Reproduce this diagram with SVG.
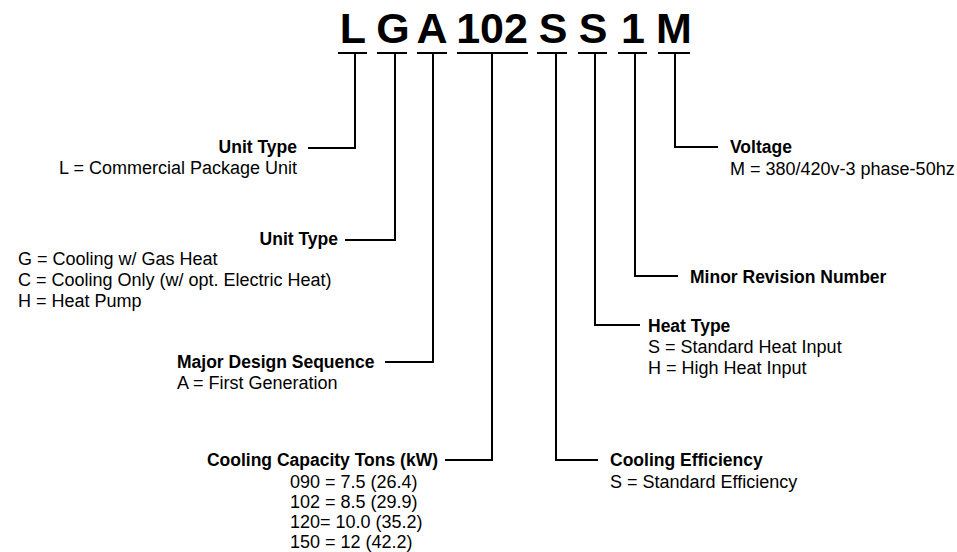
<svg xmlns="http://www.w3.org/2000/svg" width="957" height="552" viewBox="0 0 957 552">
<style>
.t{font-family:"Liberation Sans",Arial,sans-serif;font-size:18px;fill:#000}
.b{font-weight:bold;font-size:17.5px}
.title{font-family:"Liberation Sans",Arial,sans-serif;font-size:43px;font-weight:bold;fill:#000}
.c{fill:none;stroke:#000;stroke-width:2}
</style>
<rect width="957" height="552" fill="#fff"/>
<g id="title">
<text class="title" x="353" y="43" text-anchor="middle">L</text>
<text class="title" x="393" y="43" text-anchor="middle">G</text>
<text class="title" x="432" y="43" text-anchor="middle">A</text>
<text class="title" x="492" y="43" text-anchor="middle">102</text>
<text class="title" x="553" y="43" text-anchor="middle">S</text>
<text class="title" x="593" y="43" text-anchor="middle">S</text>
<text class="title" x="633" y="43" text-anchor="middle">1</text>
<text class="title" x="674" y="43" text-anchor="middle">M</text>
</g>
<g id="connectors" class="c">
<path d="M338 53H367M355 53V148H308"/>
<path d="M377 53H407M395 53V240H345"/>
<path d="M417 53H447M433 53V362H385"/>
<path d="M457 53H528M492 53V460H445"/>
<path d="M537 53H567M556 53V460H598"/>
<path d="M578 53H607M595 53V325H640"/>
<path d="M618 53H647M635 53V276H678"/>
<path d="M658 53H690M675 53V147H718"/>
</g>
<g id="unit-type-1">
<text class="t b" x="297" y="153" text-anchor="end">Unit Type</text>
<text class="t" x="297" y="174" text-anchor="end">L = Commercial Package Unit</text>
</g>
<g id="unit-type-2">
<text class="t b" x="338" y="245" text-anchor="end">Unit Type</text>
<text class="t" x="18" y="265">G = Cooling w/ Gas Heat</text>
<text class="t" x="18" y="286">C = Cooling Only (w/ opt. Electric Heat)</text>
<text class="t" x="18" y="307">H = Heat Pump</text>
</g>
<g id="major-design">
<text class="t b" x="177" y="368">Major Design Sequence</text>
<text class="t" x="177" y="389">A = First Generation</text>
</g>
<g id="cooling-capacity">
<text class="t b" x="438" y="466" text-anchor="end">Cooling Capacity Tons (kW)</text>
<text class="t" x="290" y="488">090 = 7.5 (26.4)</text>
<text class="t" x="290" y="508">102 = 8.5 (29.9)</text>
<text class="t" x="290" y="528">120= 10.0 (35.2)</text>
<text class="t" x="290" y="548">150 = 12 (42.2)</text>
</g>
<g id="cooling-efficiency">
<text class="t b" x="610" y="466">Cooling Efficiency</text>
<text class="t" x="610" y="488">S = Standard Efficiency</text>
</g>
<g id="heat-type">
<text class="t b" x="648" y="332">Heat Type</text>
<text class="t" x="648" y="353">S = Standard Heat Input</text>
<text class="t" x="648" y="374">H = High Heat Input</text>
</g>
<g id="minor-revision">
<text class="t b" x="690" y="283">Minor Revision Number</text>
</g>
<g id="voltage">
<text class="t b" x="730" y="153">Voltage</text>
<text class="t" x="730" y="175">M = 380/420v-3 phase-50hz</text>
</g>
</svg>
